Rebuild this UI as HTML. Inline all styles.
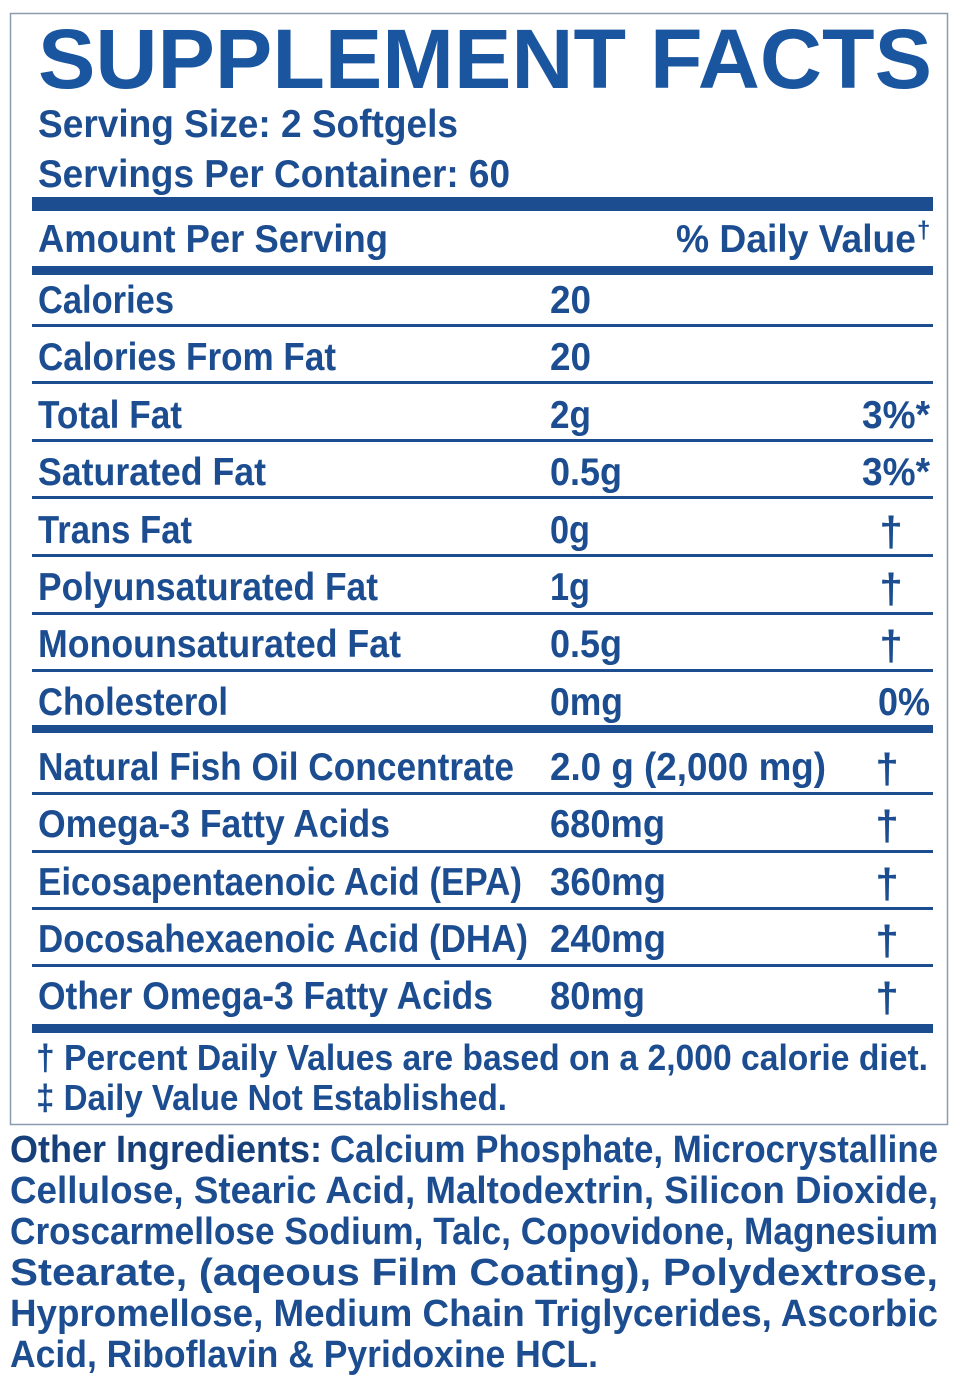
<!DOCTYPE html>
<html><head><meta charset="utf-8"><style>
html,body{margin:0;padding:0;background:#fff;}
svg{display:block}
text{font-family:"Liberation Sans Narrow","Liberation Sans",sans-serif;font-weight:bold;fill:#1c4d90;}
</style></head><body>
<svg width="964" height="1386" viewBox="0 0 964 1386" xmlns="http://www.w3.org/2000/svg">
<rect x="10.5" y="13.5" width="937" height="1111" fill="none" stroke="#8a9bb0" stroke-width="1.5"/>
<g fill="#1c4d90">
<rect x="32" y="197" width="901" height="14"/>
<rect x="32" y="266" width="901" height="9"/>
<rect x="32" y="324" width="901" height="3"/>
<rect x="32" y="381" width="901" height="3"/>
<rect x="32" y="439" width="901" height="3"/>
<rect x="32" y="496" width="901" height="3"/>
<rect x="32" y="554" width="901" height="3"/>
<rect x="32" y="612" width="901" height="3"/>
<rect x="32" y="669" width="901" height="3"/>
<rect x="32" y="725" width="901" height="8"/>
<rect x="32" y="792" width="901" height="3"/>
<rect x="32" y="850" width="901" height="3"/>
<rect x="32" y="907" width="901" height="3"/>
<rect x="32" y="964" width="901" height="3"/>
<rect x="32" y="1024" width="901" height="9"/>
</g>
<text x="38" y="88" font-size="84" textLength="894" lengthAdjust="spacingAndGlyphs" style="fill:#1a55a0;font-family:'Liberation Sans',sans-serif">SUPPLEMENT FACTS</text>
<g font-size="39">
<text x="38" y="137" textLength="420" lengthAdjust="spacingAndGlyphs">Serving Size: 2 Softgels</text>
<text x="38" y="187" textLength="472" lengthAdjust="spacingAndGlyphs">Servings Per Container: 60</text>
<text x="38" y="252" textLength="350" lengthAdjust="spacingAndGlyphs">Amount Per Serving</text>
<text x="676" y="252" textLength="240" lengthAdjust="spacingAndGlyphs">% Daily Value</text>
<text x="917" y="238" font-size="24">†</text>

<text x="38" y="313" textLength="136" lengthAdjust="spacingAndGlyphs">Calories</text>
<text x="38" y="370" textLength="298" lengthAdjust="spacingAndGlyphs">Calories From Fat</text>
<text x="38" y="428" textLength="144" lengthAdjust="spacingAndGlyphs">Total Fat</text>
<text x="38" y="485" textLength="228" lengthAdjust="spacingAndGlyphs">Saturated Fat</text>
<text x="38" y="543" textLength="154" lengthAdjust="spacingAndGlyphs">Trans Fat</text>
<text x="38" y="600" textLength="340" lengthAdjust="spacingAndGlyphs">Polyunsaturated Fat</text>
<text x="38" y="657" textLength="363" lengthAdjust="spacingAndGlyphs">Monounsaturated Fat</text>
<text x="38" y="715" textLength="190" lengthAdjust="spacingAndGlyphs">Cholesterol</text>
<text x="38" y="780" textLength="476" lengthAdjust="spacingAndGlyphs">Natural Fish Oil Concentrate</text>
<text x="38" y="837" textLength="352" lengthAdjust="spacingAndGlyphs">Omega-3 Fatty Acids</text>
<text x="38" y="895" textLength="484" lengthAdjust="spacingAndGlyphs">Eicosapentaenoic Acid (EPA)</text>
<text x="38" y="952" textLength="490" lengthAdjust="spacingAndGlyphs">Docosahexaenoic Acid (DHA)</text>
<text x="38" y="1009" textLength="455" lengthAdjust="spacingAndGlyphs">Other Omega-3 Fatty Acids</text>

<text x="550" y="313" textLength="41" lengthAdjust="spacingAndGlyphs">20</text>
<text x="550" y="370" textLength="41" lengthAdjust="spacingAndGlyphs">20</text>
<text x="550" y="428" textLength="41" lengthAdjust="spacingAndGlyphs">2g</text>
<text x="550" y="485" textLength="72" lengthAdjust="spacingAndGlyphs">0.5g</text>
<text x="550" y="543" textLength="40" lengthAdjust="spacingAndGlyphs">0g</text>
<text x="550" y="600" textLength="40" lengthAdjust="spacingAndGlyphs">1g</text>
<text x="550" y="657" textLength="72" lengthAdjust="spacingAndGlyphs">0.5g</text>
<text x="550" y="715" textLength="73" lengthAdjust="spacingAndGlyphs">0mg</text>
<text x="550" y="780" textLength="276" lengthAdjust="spacingAndGlyphs">2.0 g (2,000 mg)</text>
<text x="550" y="837" textLength="115" lengthAdjust="spacingAndGlyphs">680mg</text>
<text x="550" y="895" textLength="116" lengthAdjust="spacingAndGlyphs">360mg</text>
<text x="550" y="952" textLength="116" lengthAdjust="spacingAndGlyphs">240mg</text>
<text x="550" y="1009" textLength="95" lengthAdjust="spacingAndGlyphs">80mg</text>

<text x="862" y="428" textLength="68" lengthAdjust="spacingAndGlyphs">3%*</text>
<text x="862" y="485" textLength="68" lengthAdjust="spacingAndGlyphs">3%*</text>
<text x="878" y="715" textLength="52" lengthAdjust="spacingAndGlyphs">0%</text>
</g>
<g font-size="42" text-anchor="middle">
<text x="891" y="546">†</text>
<text x="891" y="603">†</text>
<text x="891" y="660">†</text>
<text x="887" y="783">†</text>
<text x="887" y="840">†</text>
<text x="887" y="898">†</text>
<text x="887" y="955">†</text>
<text x="887" y="1012">†</text>
</g>
<g font-size="36">
<text x="36" y="1070" textLength="892" lengthAdjust="spacingAndGlyphs">† Percent Daily Values are based on a 2,000 calorie diet.</text>
<text x="36" y="1110" textLength="471" lengthAdjust="spacingAndGlyphs">‡ Daily Value Not Established.</text>
</g>
<g font-size="38">
<text x="10" y="1162" textLength="312" lengthAdjust="spacingAndGlyphs" style="fill:#173f7a">Other Ingredients:</text>
<text x="330" y="1162" textLength="608" lengthAdjust="spacingAndGlyphs">Calcium Phosphate, Microcrystalline</text>
<text x="10" y="1203" textLength="928" lengthAdjust="spacingAndGlyphs">Cellulose, Stearic Acid, Maltodextrin, Silicon Dioxide,</text>
<text x="10" y="1244" textLength="928" lengthAdjust="spacingAndGlyphs">Croscarmellose Sodium, Talc, Copovidone, Magnesium</text>
<text x="10" y="1285" textLength="928" lengthAdjust="spacingAndGlyphs">Stearate, (aqeous Film Coating), Polydextrose,</text>
<text x="10" y="1326" textLength="928" lengthAdjust="spacingAndGlyphs">Hypromellose, Medium Chain Triglycerides, Ascorbic</text>
<text x="10" y="1367" textLength="588" lengthAdjust="spacingAndGlyphs">Acid, Riboflavin &amp; Pyridoxine HCL.</text>
</g>
</svg>
</body></html>
